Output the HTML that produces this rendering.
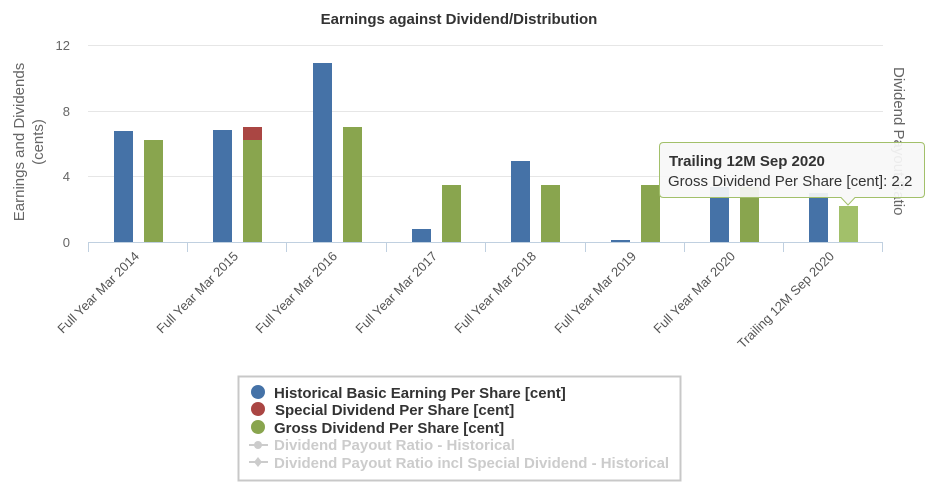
<!DOCTYPE html>
<html><head><meta charset="utf-8"><style>
body{margin:0;background:#fff;}
svg{display:block;font-family:"Liberation Sans",Arial,sans-serif;}
</style></head><body>
<svg width="931" height="484" viewBox="0 0 931 484" xmlns="http://www.w3.org/2000/svg">
<rect width="931" height="484" fill="#fff"/>
<text x="459" y="24" text-anchor="middle" font-size="15" font-weight="bold" fill="#333">Earnings against Dividend/Distribution</text>
<g stroke="#e6e6e6" stroke-width="1">
<line x1="88" y1="45.5" x2="883" y2="45.5"/>
<line x1="88" y1="111.5" x2="883" y2="111.5"/>
<line x1="88" y1="176.5" x2="883" y2="176.5"/>
</g>
<g font-size="13" fill="#666" text-anchor="end">
<text x="70" y="50">12</text><text x="70" y="116">8</text><text x="70" y="181">4</text><text x="70" y="247">0</text>
</g>
<text transform="translate(24,142) rotate(-90)" text-anchor="middle" font-size="15" fill="#666">Earnings and Dividends</text>
<text transform="translate(43,142) rotate(-90)" text-anchor="middle" font-size="15" fill="#666">(cents)</text>
<text transform="translate(894,67) rotate(90)" font-size="15" fill="#666">Dividend Payout Ratio</text>
<g id="bars">
<rect x="114" y="131" width="19" height="111" fill="#4572a7"/>
<rect x="144" y="140" width="19" height="102" fill="#89a54e"/>
<rect x="213" y="130" width="19" height="112" fill="#4572a7"/>
<rect x="243" y="140" width="19" height="102" fill="#89a54e"/>
<rect x="243" y="127" width="19" height="13" fill="#aa4643"/>
<rect x="313" y="63" width="19" height="179" fill="#4572a7"/>
<rect x="343" y="127" width="19" height="115" fill="#89a54e"/>
<rect x="412" y="229" width="19" height="13" fill="#4572a7"/>
<rect x="442" y="185" width="19" height="57" fill="#89a54e"/>
<rect x="511" y="161" width="19" height="81" fill="#4572a7"/>
<rect x="541" y="185" width="19" height="57" fill="#89a54e"/>
<rect x="611" y="240" width="19" height="2" fill="#4572a7"/>
<rect x="641" y="185" width="19" height="57" fill="#89a54e"/>
<rect x="710" y="187" width="19" height="55" fill="#4572a7"/>
<rect x="740" y="187" width="19" height="55" fill="#89a54e"/>
<rect x="809" y="193" width="19" height="49" fill="#4572a7"/>
<rect x="839" y="206" width="19" height="36" fill="#a2c06a"/>
</g>
<line x1="88" y1="242.5" x2="883" y2="242.5" stroke="#c0d0e0"/>
<g stroke="#c0d0e0">
<line x1="88.5" y1="242" x2="88.5" y2="252"/><line x1="187.5" y1="242" x2="187.5" y2="252"/><line x1="286.5" y1="242" x2="286.5" y2="252"/><line x1="386.5" y1="242" x2="386.5" y2="252"/><line x1="485.5" y1="242" x2="485.5" y2="252"/><line x1="585.5" y1="242" x2="585.5" y2="252"/><line x1="684.5" y1="242" x2="684.5" y2="252"/><line x1="783.5" y1="242" x2="783.5" y2="252"/><line x1="882.5" y1="242" x2="882.5" y2="252"/>
</g>
<g font-size="13" fill="#555" text-anchor="end">
<text transform="translate(140,257) rotate(-45)">Full Year Mar 2014</text>
<text transform="translate(239,257) rotate(-45)">Full Year Mar 2015</text>
<text transform="translate(338,257) rotate(-45)">Full Year Mar 2016</text>
<text transform="translate(438,257) rotate(-45)">Full Year Mar 2017</text>
<text transform="translate(537,257) rotate(-45)">Full Year Mar 2018</text>
<text transform="translate(637,257) rotate(-45)">Full Year Mar 2019</text>
<text transform="translate(736,257) rotate(-45)">Full Year Mar 2020</text>
<text transform="translate(835,257) rotate(-45)">Trailing 12M Sep 2020</text>
</g>
<path d="M663.5,142.5 H920.5 Q924.5,142.5 924.5,146.5 V193.5 Q924.5,197.5 920.5,197.5 H855 L848,205 L841,197.5 H663.5 Q659.5,197.5 659.5,193.5 V146.5 Q659.5,142.5 663.5,142.5 Z" fill="#f7f7f7" fill-opacity="0.92" stroke="#a2c06a" stroke-width="1"/>
<text x="669" y="166" font-size="15" font-weight="bold" fill="#333">Trailing 12M Sep 2020</text>
<text x="668" y="186" font-size="15" fill="#333">Gross Dividend Per Share [cent]: 2.2</text>
<rect x="238.5" y="376.5" width="442" height="104" fill="#fff" stroke="#c8c8c8" stroke-width="2"/>
<circle cx="258" cy="392" r="7" fill="#4572a7"/>
<circle cx="258" cy="409" r="7" fill="#aa4643"/>
<circle cx="258" cy="427" r="7" fill="#89a54e"/>
<g stroke="#ccc" stroke-width="2"><line x1="249" y1="445" x2="268" y2="445"/><line x1="249" y1="462" x2="268" y2="462"/></g>
<circle cx="258" cy="445" r="4" fill="#ccc"/>
<path d="M258,457 L262,462 L258,467 L254,462 Z" fill="#ccc"/>
<g font-size="15" font-weight="bold">
<text x="274" y="398" fill="#333">Historical Basic Earning Per Share [cent]</text>
<text x="275" y="415" fill="#333">Special Dividend Per Share [cent]</text>
<text x="274" y="433" fill="#333">Gross Dividend Per Share [cent]</text>
<text x="274" y="450" fill="#ccc">Dividend Payout Ratio - Historical</text>
<text x="274" y="468" fill="#ccc">Dividend Payout Ratio incl Special Dividend - Historical</text>
</g>
</svg>
</body></html>
